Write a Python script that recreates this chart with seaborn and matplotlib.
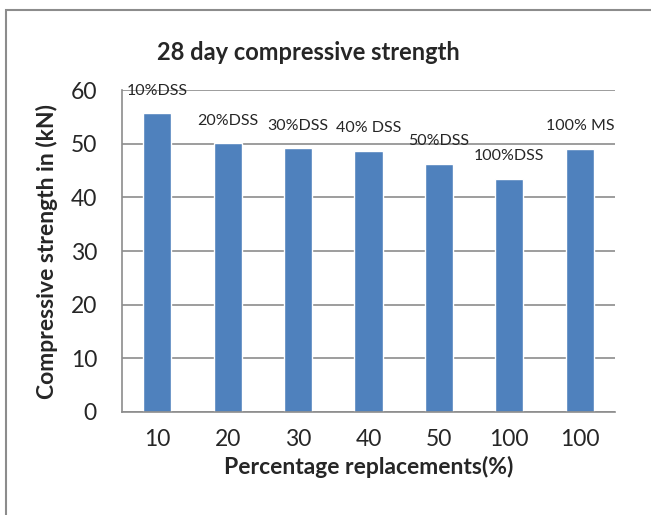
import numpy as np
import pandas as pd
import seaborn as sns
import matplotlib.pyplot as plt
from matplotlib.patches import Rectangle

# --- data
mixes = ["10%DSS", "20%DSS", "30%DSS", "40% DSS", "50%DSS", "100%DSS", "100% MS"]
replacement = ["10", "20", "30", "40", "50", "100", "100"]
strength = [55.7, 50.1, 49.2, 48.7, 46.3, 43.5, 49.1]

df = pd.DataFrame({"Mix": mixes, "Strength": strength})

sns.set_style("white")
plt.rcParams["font.family"] = ["Lato", "DejaVu Sans"]

fig = plt.figure(figsize=(6.51, 5.15), dpi=100)
ax = fig.add_axes([0.1874, 0.2, 0.7573, 0.6252])

sns.barplot(x="Mix", y="Strength", data=df, order=mixes, color="#4F81BD",
            saturation=1, width=0.4, ax=ax)

ax.set_ylim(0, 60)
ax.set_xlim(-0.5, len(mixes) - 0.5)
ax.set_yticks(np.arange(0, 61, 10))
ax.yaxis.grid(True, color="#8c8c8c", lw=1.2)
ax.set_axisbelow(True)

ax.set_xticks(range(len(mixes)))
ax.set_xticklabels(replacement)
ax.set_xticks(np.arange(-0.5, len(mixes), 1), minor=True)
ax.tick_params(axis="x", which="major", length=0, labelsize=16.5, pad=12)
ax.tick_params(axis="x", which="minor", length=6, color="#8c8c8c", width=1.2, direction="out")
ax.tick_params(axis="y", length=6, color="#8c8c8c", width=1.2, direction="out", labelsize=16.5, pad=12)

for s in ["top", "right"]:
    ax.spines[s].set_visible(False)
for s in ["left", "bottom"]:
    ax.spines[s].set_color("#8c8c8c")
    ax.spines[s].set_linewidth(1.2)

# data labels
for i, (lab, v) in enumerate(zip(mixes, strength)):
    ax.annotate(lab, (i, v), xytext=(0, 16), textcoords="offset points",
                ha="center", va="center", fontsize=11.5)

ax.set_xlabel("Percentage replacements(%)", fontsize=16.5, fontweight="bold")
ax.set_ylabel("Compressive strength in (kN)", fontsize=16.5, fontweight="bold")
ax.xaxis.set_label_coords(0.5, -0.171)
ax.xaxis.label.set_va("center")
ax.yaxis.set_label_coords(-0.152, 0.5)
ax.yaxis.label.set_va("center")
fig.text(0.473, 0.899, "28 day compressive strength", ha="center", va="center",
         fontsize=17, fontweight="bold")

# outer chart border
fig.patches.append(Rectangle((0.0092, -0.05), 1.1, 1.03, transform=fig.transFigure,
                             fill=False, edgecolor="#8c8c8c", lw=1.5))

fig.savefig("out.png", dpi=100)
